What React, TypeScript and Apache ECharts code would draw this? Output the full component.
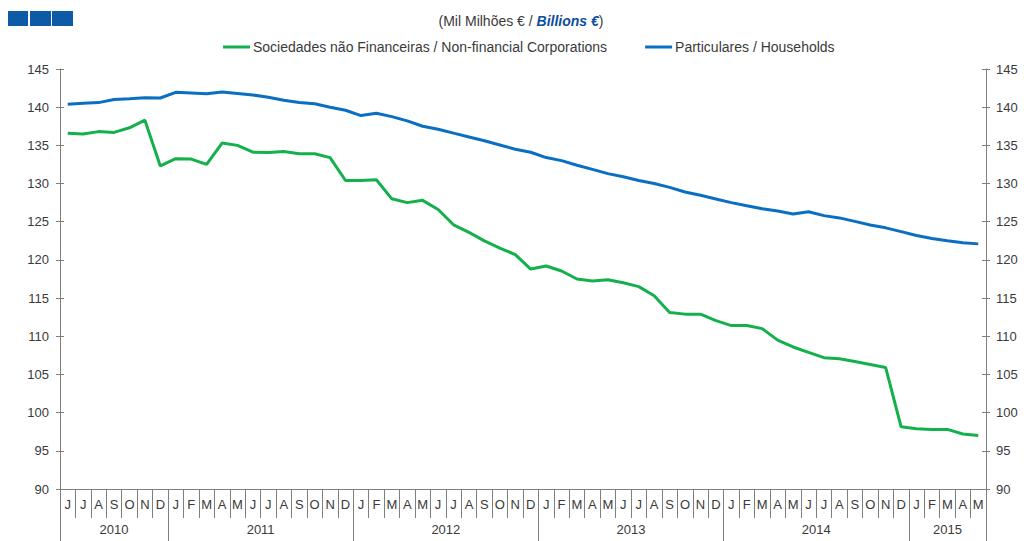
import React, { useEffect, useRef } from "react";
import * as echarts from "echarts";

const years = ["2010", "2011", "2012", "2013", "2014", "2015"];
const monthsPerYear = [7, 12, 12, 12, 12, 5];
const monthLetters = ["J", "F", "M", "A", "M", "J", "J", "A", "S", "O", "N", "D"];
const firstMonthIndex = 5; // June 2010

const corporations = [
  136.6, 136.5, 136.8, 136.7, 137.3, 138.3, 132.3,
  133.25, 133.2, 132.5, 135.3, 135.0, 134.1, 134.05, 134.2, 133.9, 133.9, 133.4, 130.4,
  130.4, 130.5, 128.0, 127.5, 127.8, 126.6, 124.6, 123.6, 122.5, 121.55, 120.7, 118.8,
  119.2, 118.55, 117.5, 117.25, 117.4, 117.0, 116.5, 115.3, 113.1, 112.9, 112.9, 112.05,
  111.4, 111.4, 111.0, 109.5, 108.6, 107.9, 107.2, 107.05, 106.7, 106.3, 105.9, 98.15,
  97.9, 97.8, 97.8, 97.2, 97.0,
];

const households = [
  140.4, 140.5, 140.6, 141.0, 141.1, 141.25, 141.2,
  141.95, 141.85, 141.75, 142.0, 141.8, 141.6, 141.3, 140.9, 140.6, 140.45, 140.0, 139.6,
  138.9, 139.2, 138.76, 138.2, 137.5, 137.1, 136.6, 136.1, 135.6, 135.05, 134.5, 134.1,
  133.4, 133.0, 132.4, 131.85, 131.3, 130.9, 130.4, 130.0, 129.5, 128.9, 128.46, 127.98,
  127.5, 127.1, 126.7, 126.4, 126.0, 126.3, 125.8, 125.5, 125.05, 124.57, 124.2, 123.7,
  123.2, 122.8, 122.5, 122.25, 122.1,
];

const seriesNames = [
  "Sociedades não Financeiras / Non-financial Corporations",
  "Particulares / Households",
];

const yMin = 90;
const yMax = 145;
const yStep = 5;

export default function App() {
  const ref = useRef<HTMLDivElement>(null);

  useEffect(() => {
    document.body.style.margin = "0";
    if (!ref.current) return;
    const chart = echarts.init(ref.current, null, { renderer: "svg" });

    const totalMonths = monthsPerYear.reduce((a, b) => a + b, 0);
    const monthLabels: string[] = [];
    for (let i = 0; i < totalMonths; i++) {
      monthLabels.push(monthLetters[(firstMonthIndex + i) % 12]);
    }
    // half-month grid for year axis (boundaryGap false)
    const halfCount = totalMonths * 2 + 1;
    const yearData: string[] = new Array(halfCount).fill("");
    const boundaries = new Set<number>();
    let cum = 0;
    boundaries.add(0);
    years.forEach((y, i) => {
      const center = cum * 2 + monthsPerYear[i];
      yearData[center] = y;
      cum += monthsPerYear[i];
      boundaries.add(cum * 2);
    });
    const centers = new Set<number>();
    yearData.forEach((v, i) => {
      if (v) centers.add(i);
    });

    const textColor = "#3a3a3a";
    const axisColor = "#7f7f7f";
    const font = "'Liberation Sans', Arial, sans-serif";

    const yAxisBase = {
      type: "value" as const,
      min: yMin,
      max: yMax,
      interval: yStep,
      splitLine: { show: false },
    };

    chart.setOption({
      animation: false,
      textStyle: { fontFamily: font },
      title: {
        text: "{n|(Mil Milhões € / }{b|Billions €}{n|)}",
        left: 516,
        textAlign: "center",
        top: 9,
        textStyle: {
          fontWeight: "normal",
          rich: {
            n: { fontSize: 14, color: textColor, fontFamily: font, fontWeight: "normal" },
            b: {
              fontSize: 14,
              color: "#0b4f9c",
              fontWeight: "bold",
              fontStyle: "italic",
              fontFamily: font,
            },
          },
        },
      },
      legend: {
        left: 218,
        top: 35,
        itemWidth: 27,
        itemHeight: 3,
        itemGap: 38,
        icon: "rect",
        textStyle: { fontSize: 14, color: textColor, fontFamily: font, padding: [0, 0, 0, -2] },
        data: seriesNames,
      },
      graphic: [
        { type: "rect", left: 8, top: 11, shape: { width: 20, height: 15 }, style: { fill: "#0d5aa7" } },
        { type: "rect", left: 30, top: 11, shape: { width: 21, height: 15 }, style: { fill: "#0d5aa7" } },
        { type: "rect", left: 52, top: 11, shape: { width: 21, height: 15 }, style: { fill: "#0d5aa7" } },
      ],
      grid: { left: 60, right: 38, top: 69, bottom: 52, containLabel: false },
      xAxis: [
        {
          type: "category",
          data: monthLabels,
          boundaryGap: true,
          position: "bottom",
          axisLine: { show: true, lineStyle: { color: axisColor, width: 1 } },
          axisTick: { show: true, interval: 0, length: 29, lineStyle: { color: axisColor } },
          axisLabel: { interval: 0, margin: 9, fontSize: 13, color: textColor, fontFamily: font },
          splitLine: { show: false },
        },
        {
          type: "category",
          data: yearData,
          boundaryGap: false,
          position: "bottom",
          offset: 0,
          axisLine: { show: false },
          axisTick: {
            show: true,
            length: 52,
            interval: (index: number) => boundaries.has(index),
            lineStyle: { color: axisColor },
          },
          axisLabel: {
            interval: (index: number) => centers.has(index),
            margin: 34,
            fontSize: 13,
            color: textColor,
            fontFamily: font,
          },
          splitLine: { show: false },
        },
      ],
      yAxis: [
        {
          ...yAxisBase,
          position: "left",
          axisLine: { show: true, lineStyle: { color: axisColor } },
          axisTick: { show: true, length: 4, lineStyle: { color: axisColor } },
          axisLabel: { margin: 11, fontSize: 13, color: textColor, fontFamily: font },
        },
        {
          ...yAxisBase,
          position: "right",
          axisLine: { show: true, lineStyle: { color: axisColor } },
          axisTick: { show: true, length: 4, lineStyle: { color: axisColor } },
          axisLabel: { margin: 10, fontSize: 13, color: textColor, fontFamily: font },
        },
        {
          ...yAxisBase,
          position: "left",
          axisLine: { show: false },
          axisTick: { show: true, inside: true, length: 4, lineStyle: { color: axisColor } },
          axisLabel: { show: false },
        },
        {
          ...yAxisBase,
          position: "right",
          axisLine: { show: false },
          axisTick: { show: true, inside: true, length: 4, lineStyle: { color: axisColor } },
          axisLabel: { show: false },
        },
      ],
      series: [
        {
          name: seriesNames[0],
          type: "line",
          data: corporations,
          xAxisIndex: 0,
          yAxisIndex: 0,
          symbol: "none",
          lineStyle: { color: "#13b04b", width: 3 },
          itemStyle: { color: "#13b04b" },
        },
        {
          name: seriesNames[1],
          type: "line",
          data: households,
          xAxisIndex: 0,
          yAxisIndex: 0,
          symbol: "none",
          lineStyle: { color: "#0a6fc2", width: 3 },
          itemStyle: { color: "#0a6fc2" },
        },
      ],
    });

    return () => chart.dispose();
  }, []);

  return <div ref={ref} style={{ width: 1024, height: 541 }} />;
}
